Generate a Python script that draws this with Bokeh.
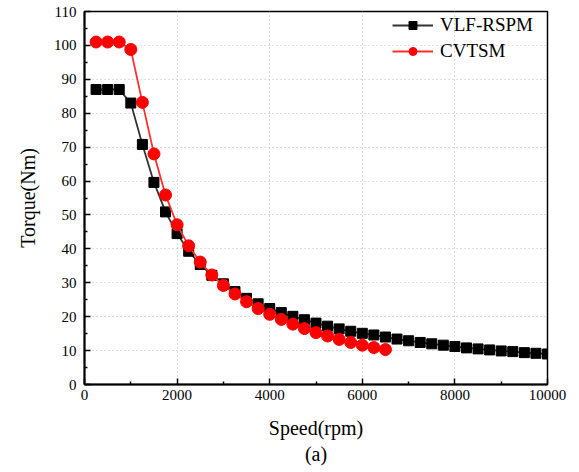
from bokeh.plotting import figure
from bokeh.models import (Range1d, FixedTicker, Legend, LegendItem)
from bokeh.embed import file_html
from bokeh.resources import INLINE

# ---- data ----
vlf_speed = [250, 500, 750, 1000, 1250, 1500, 1750, 2000, 2250, 2500,
             2750, 3000, 3250, 3500, 3750, 4000, 4250, 4500, 4750, 5000,
             5250, 5500, 5750, 6000, 6250, 6500, 6750, 7000, 7250, 7500,
             7750, 8000, 8250, 8500, 8750, 9000, 9250, 9500, 9750, 10000]
vlf_torque = [87.0, 87.0, 87.0, 83.0, 70.8, 59.6, 50.9, 44.5, 39.3, 35.4,
              32.2, 29.7, 27.4, 25.4, 23.8, 22.4, 21.2, 20.1, 19.1, 18.1,
              17.2, 16.4, 15.7, 15.1, 14.6, 14.0, 13.4, 12.9, 12.4, 12.0,
              11.6, 11.2, 10.8, 10.5, 10.2, 9.9, 9.7, 9.4, 9.2, 9.0]

cvt_speed = [250, 500, 750, 1000, 1250, 1500, 1750, 2000, 2250, 2500,
             2750, 3000, 3250, 3500, 3750, 4000, 4250, 4500, 4750, 5000,
             5250, 5500, 5750, 6000, 6250, 6500]
cvt_torque = [101.0, 101.0, 101.0, 98.8, 83.2, 68.0, 55.9, 47.1, 40.9, 36.1,
              32.3, 29.2, 26.7, 24.4, 22.4, 20.7, 19.2, 17.8, 16.5, 15.3,
              14.3, 13.3, 12.4, 11.6, 10.9, 10.3]

x_major = [0, 2000, 4000, 6000, 8000, 10000]
x_minor = [1000, 3000, 5000, 7000, 9000]
y_major = [0, 10, 20, 30, 40, 50, 60, 70, 80, 90, 100, 110]
y_minor = [5, 15, 25, 35, 45, 55, 65, 75, 85, 95, 105]

FONT = "Liberation Serif"

p = figure(width=579, height=472, output_backend="svg", toolbar_location=None,
           x_range=Range1d(0, 10000), y_range=Range1d(0, 110),
           min_border_left=84, min_border_right=32, min_border_top=11,
           min_border_bottom=88)
p.frame_width = 463
p.frame_height = 373

p.background_fill_color = "white"
p.border_fill_color = "white"
p.outline_line_color = "black"
p.outline_line_width = 1.5

for ax, maj, mnr in ((p.xaxis[0], x_major, x_minor), (p.yaxis[0], y_major, y_minor)):
    ax.ticker = FixedTicker(ticks=maj, minor_ticks=mnr)
    ax.axis_line_width = 2
    ax.axis_line_color = "black"
    ax.major_tick_in = 6
    ax.major_tick_out = 0
    ax.minor_tick_in = 3
    ax.minor_tick_out = 0
    ax.major_tick_line_width = 1.5
    ax.minor_tick_line_width = 1.5
    ax.major_label_text_font = FONT
    ax.major_label_text_font_size = "15px"
    ax.major_label_text_color = "black"
    ax.axis_label_text_font = FONT
    ax.axis_label_text_font_style = "normal"
    ax.axis_label_text_font_size = "20px"
    ax.axis_label_text_color = "black"

p.xaxis.axis_label = "Speed(rpm)\n(a)"
p.yaxis.axis_label = "Torque(Nm)"
p.xaxis.major_label_standoff = 5
p.xaxis.axis_label_standoff = 14
p.yaxis.major_label_standoff = 8
p.yaxis.axis_label_standoff = 12

p.xgrid.ticker = FixedTicker(ticks=x_major)
p.ygrid.ticker = FixedTicker(ticks=y_major)
for g in (p.xgrid[0], p.ygrid[0]):
    g.grid_line_color = "#bdbdbd"
    g.grid_line_dash = "1 3"
    g.grid_line_width = 1

l1 = p.line(vlf_speed, vlf_torque, line_color="#333333", line_width=1.8)
s1 = p.scatter(vlf_speed, vlf_torque, marker="square", size=10,
               fill_color="black", line_color="black")
l2 = p.line(cvt_speed, cvt_torque, line_color="#ff3030", line_width=1.8)
s2 = p.scatter(cvt_speed, cvt_torque, marker="circle", size=12,
               fill_color="#ff0000", line_color="#ff0000")

legend = Legend(items=[LegendItem(label="VLF-RSPM", renderers=[l1, s1]),
                       LegendItem(label="CVTSM", renderers=[l2, s2])],
                location=(308, 322), orientation="vertical")
legend.glyph_width = 41
legend.glyph_height = 20
legend.label_height = 20
legend.spacing = 4
legend.padding = 0
legend.margin = 0
legend.label_standoff = 7
legend.border_line_alpha = 0
legend.background_fill_alpha = 0
legend.label_text_font = FONT
legend.label_text_font_size = "19px"
legend.label_text_color = "black"
p.add_layout(legend)

open("out.html", "w").write(file_html(p, INLINE))
